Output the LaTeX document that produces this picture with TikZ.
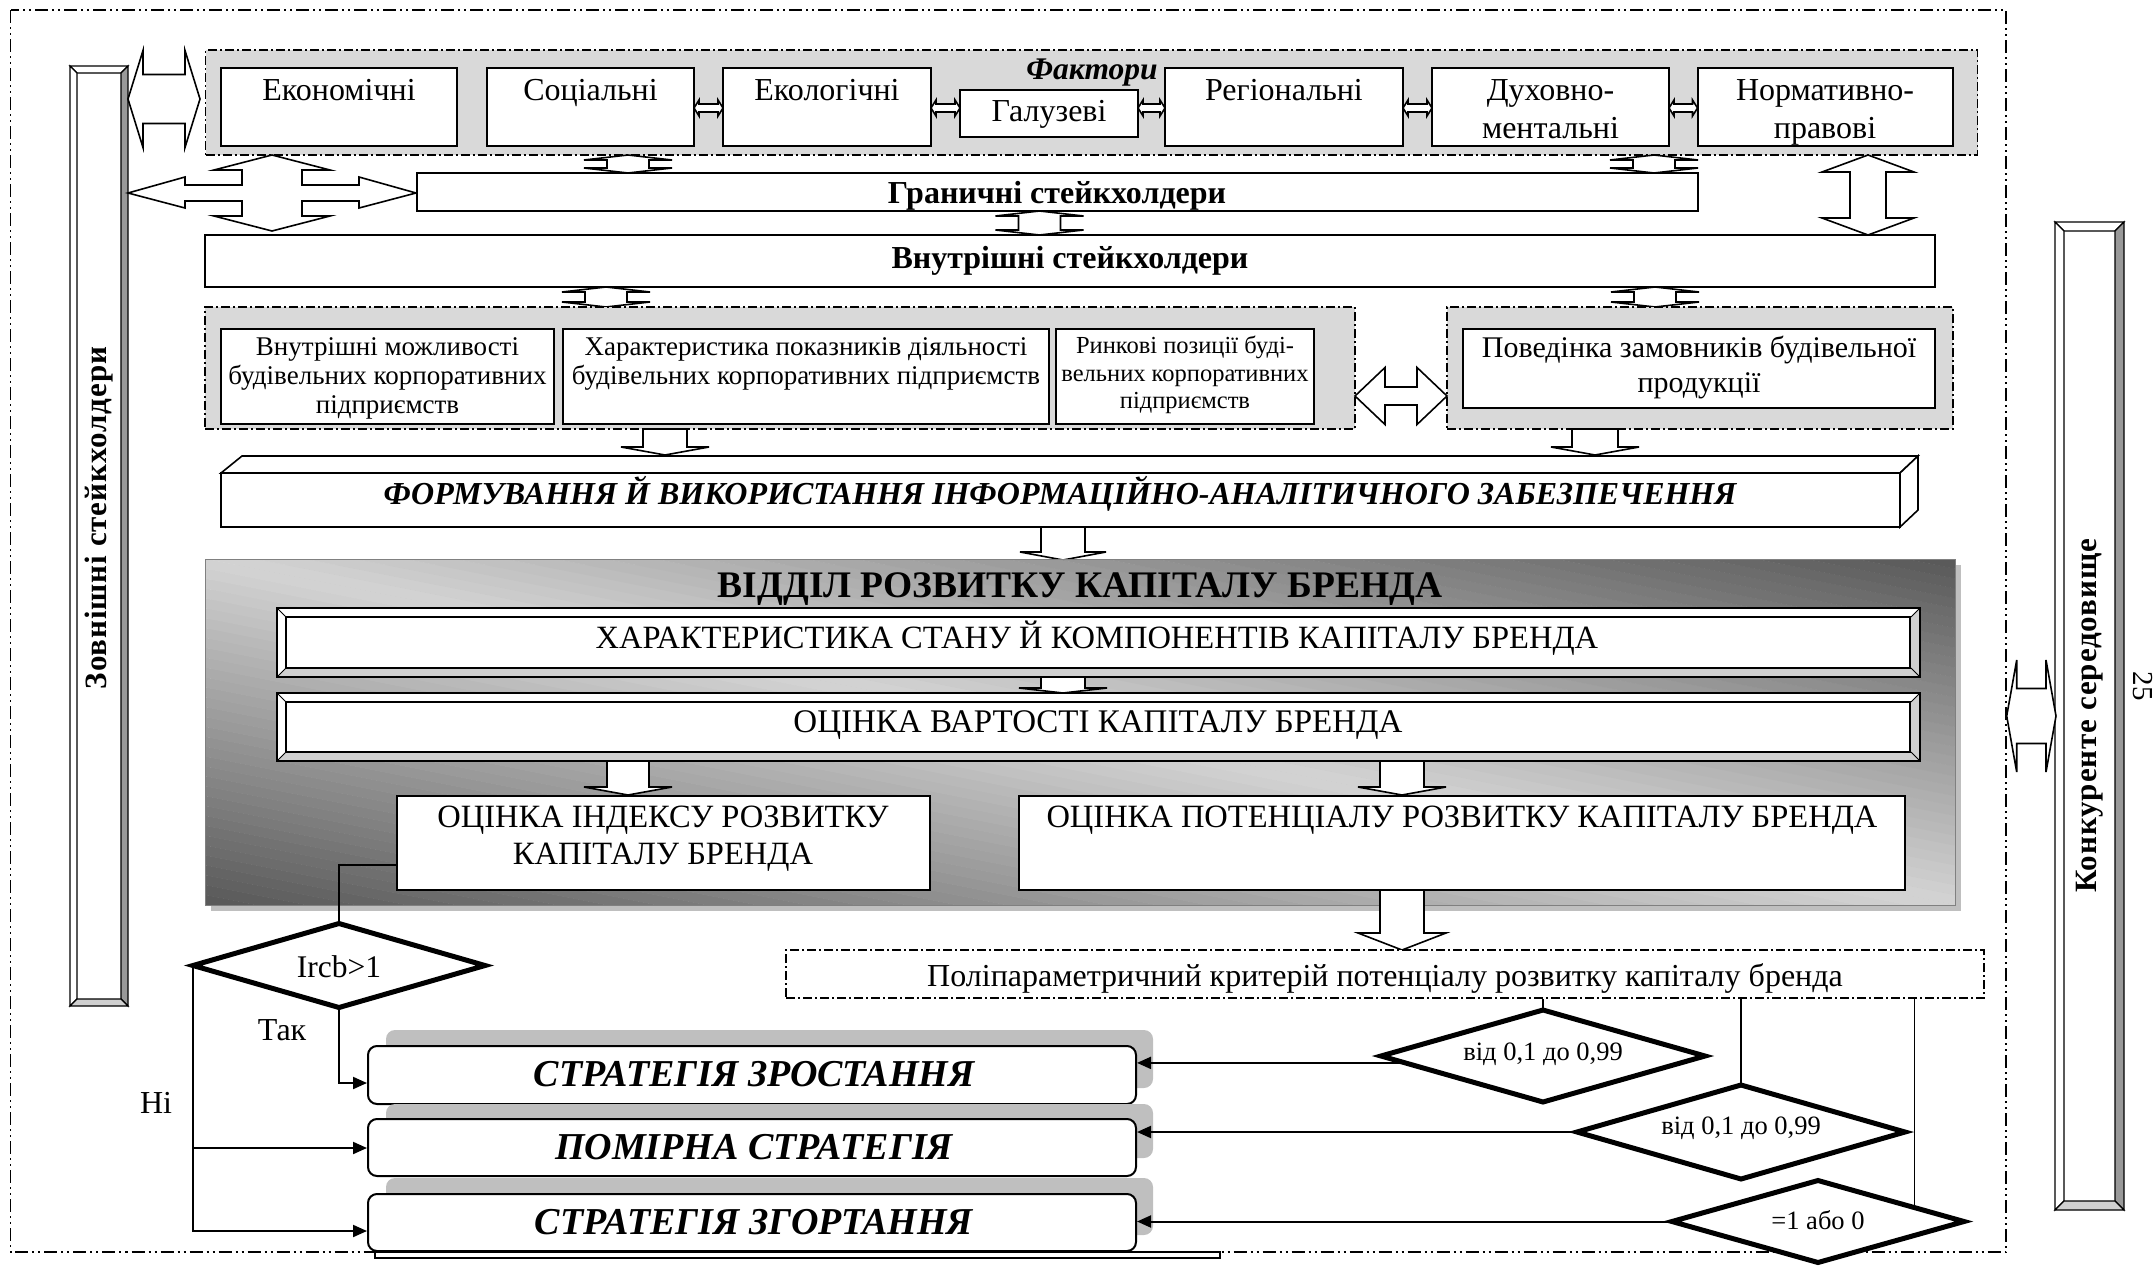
\documentclass[tikz,border=0pt]{standalone}
\usepackage{fontspec}
\setmainfont{Liberation Serif}
\newfontfamily\barfont[LetterSpace=3]{Liberation Serif}
\usetikzlibrary{arrows.meta,calc}
\definecolor{pgray}{HTML}{D9D9D9}
\definecolor{bevgray}{HTML}{D0D0D0}
\definecolor{bardark}{HTML}{999999}
\definecolor{shgray}{HTML}{BFBFBF}
\definecolor{deptdark}{HTML}{585858}
\definecolor{deptlight}{HTML}{D4D4D4}
\newcommand\fsz[1]{\fontsize{#1}{#1}\selectfont}
% vertical double block arrow: cx, ytop, ybot, shaft half, head half, head length
\newcommand\vdbl[6]{\draw[blk] (#1,#2) -- (#1+#5,#2+#6) -- (#1+#4,#2+#6) -- (#1+#4,#3-#6) -- (#1+#5,#3-#6) -- (#1,#3) -- (#1-#5,#3-#6) -- (#1-#4,#3-#6) -- (#1-#4,#2+#6) -- (#1-#5,#2+#6) -- cycle;}
% horizontal double block arrow: cy, xleft, xright, shaft half, head half, head length
\newcommand\hdbl[6]{\draw[blk] (#2,#1) -- (#2+#6,#1-#5) -- (#2+#6,#1-#4) -- (#3-#6,#1-#4) -- (#3-#6,#1-#5) -- (#3,#1) -- (#3-#6,#1+#5) -- (#3-#6,#1+#4) -- (#2+#6,#1+#4) -- (#2+#6,#1+#5) -- cycle;}
% down block arrow: cx, ytop, ytip, shaft half, head half, head length
\newcommand\vdn[6]{\draw[blk] (#1-#4,#2) -- (#1+#4,#2) -- (#1+#4,#3-#6) -- (#1+#5,#3-#6) -- (#1,#3) -- (#1-#5,#3-#6) -- (#1-#4,#3-#6) -- cycle;}
% bevel frame: x1 y1 x2 y2 d
\newcommand\bevframe[5]{%
 \fill[white] (#1,#2) rectangle (#3,#4);
 \fill[bevgray] (#3,#2) -- (#3-#5,#2+#5) -- (#3-#5,#4-#5) -- (#3,#4) -- cycle;
 \fill[bevgray] (#1,#4) -- (#1+#5,#4-#5) -- (#3-#5,#4-#5) -- (#3,#4) -- cycle;
 \draw[line width=2.2pt] (#1,#2) rectangle (#3,#4);
 \draw[line width=1pt] (#1,#2) -- (#1+#5,#2+#5) (#3,#2) -- (#3-#5,#2+#5) (#1,#4) -- (#1+#5,#4-#5) (#3,#4) -- (#3-#5,#4-#5);}
% beveled vertical bar: x1 y1 x2 y2 d
\newcommand\vbar[5]{%
 \filldraw[white,draw=black,line width=1.2pt] (#1,#2) -- (#3,#2) -- (#3-#5,#2+#5) -- (#1+#5,#2+#5) -- cycle;
 \filldraw[white,draw=black,line width=1.2pt] (#1,#2) -- (#1+#5,#2+#5) -- (#1+#5,#4-#5) -- (#1,#4) -- cycle;
 \filldraw[fill=bardark,draw=black,line width=1.2pt] (#3,#2) -- (#3-#5,#2+#5) -- (#3-#5,#4-#5) -- (#3,#4) -- cycle;
 \filldraw[fill=bevgray,draw=black,line width=1.2pt] (#1,#4) -- (#1+#5,#4-#5) -- (#3-#5,#4-#5) -- (#3,#4) -- cycle;}
% diamond outline with named corner coordinates: name, cx, cy, half width, half height
\newcommand\dmd[5]{%
 \draw[diapath] (#2-#4,#3) -- (#2,#3-#5) -- (#2+#4,#3) -- (#2,#3+#5) -- cycle;
 \coordinate (#1-w) at (#2-#4,#3);
 \coordinate (#1-n) at (#2,#3-#5);
 \coordinate (#1-e) at (#2+#4,#3);
 \coordinate (#1-s) at (#2,#3+#5);}
\tikzset{
 bx/.style={draw,line width=2pt,fill=white,inner sep=0,rectangle},
 ddash/.style={dash pattern=on 9pt off 3pt on 2pt off 3pt},
 dddash/.style={dash pattern=on 13pt off 4pt on 2pt off 4pt on 2pt off 4pt},
 panel/.style={draw,line width=1.6pt,ddash,fill=pgray,inner sep=0,rectangle},
 blk/.style={draw,line width=1.6pt,fill=white,line join=miter},
 conn/.style={draw,line width=2pt},
 arr/.style={conn,-{Triangle[length=14pt,width=12pt]}},
 diapath/.style={draw,line width=5pt,fill=white,line join=miter,miter limit=12},
 tx/.style={inner sep=0,anchor=base},
 strat/.style={draw,line width=2pt,fill=white,rounded corners=9pt,inner sep=0,rectangle},
 stshadow/.style={fill=shgray,rounded corners=9pt},
}
\begin{document}
\begin{tikzpicture}[x=1pt,y=-1pt]
\useasboundingbox (0,0) rectangle (2156,1266);
% outer frame
\draw[line width=1.5pt,dddash] (10.5,10) rectangle (2006,1252);
% side bars
\vbar{70}{66}{128}{1006}{7}
\vbar{2055}{222}{2124}{1210}{9}
\node[rotate=90,inner sep=0,font=\fsz{31}\barfont\bfseries] (ext) at (99,518) {Зовнішні стейкхолдери};
\node[rotate=90,inner sep=0,font=\fsz{31}\barfont\bfseries] (comp) at (2090,716) {Конкуренте середовище};
\node[rotate=-90,inner sep=0,font=\fsz{29}] (pg) at (2143,686) {25};

% factors panel
\node[panel,minimum width=1772pt,minimum height=105pt] (fpan) at (1091.5,102.5) {};
\node[bx,minimum width=236pt,minimum height=78pt] (eco) at (339,107) {};
\node[bx,minimum width=207pt,minimum height=78pt] (soc) at (590.5,107) {};
\node[bx,minimum width=208pt,minimum height=78pt] (ecol) at (827,107) {};
\node[bx,minimum width=178pt,minimum height=47pt] (gal) at (1049,113.5) {};
\node[bx,minimum width=238pt,minimum height=78pt] (reg) at (1284,107) {};
\node[bx,minimum width=237pt,minimum height=78pt] (duh) at (1550.5,107) {};
\node[bx,minimum width=255pt,minimum height=78pt] (norm) at (1825,107) {};
\node[tx,font=\fsz{31.5}\bfseries\itshape] (fakt) at (1092,79) {Фактори};
\node[tx,font=\fsz{32}] at (339,100) {Економічні};
\node[tx,font=\fsz{32}] at (590.5,100) {Соціальні};
\node[tx,font=\fsz{32}] at (827,100) {Екологічні};
\node[tx,font=\fsz{32}] at (1049,121) {Галузеві};
\node[tx,font=\fsz{32}] at (1284,100) {Регіональні};
\node[tx,font=\fsz{32}] at (1550.5,100) {Духовно-};
\node[tx,font=\fsz{32}] at (1550.5,138) {ментальні};
\node[tx,font=\fsz{32}] at (1825,100) {Нормативно-};
\node[tx,font=\fsz{32}] at (1825,138) {правові};
\hdbl{108}{694}{723}{4}{8}{5}
\hdbl{108}{931}{960}{4}{8}{5}
\hdbl{108}{1138}{1165}{4}{8}{5}
\hdbl{108}{1403}{1432}{4}{8}{5}
\hdbl{108}{1669}{1697.5}{4}{8}{5}

% left big double arrow
\hdbl{99}{128}{200}{24.5}{48.5}{15}
% four-way arrow
\draw[blk] (272,155) -- (330,170) -- (302,170) -- (302,185) -- (359,185) -- (359,177) -- (416,193) -- (359,208) -- (359,201) -- (302,201) -- (302,216) -- (330,216) -- (272,231) -- (214,216) -- (242,216) -- (242,201) -- (185,201) -- (185,208) -- (128,193) -- (185,177) -- (185,185) -- (242,185) -- (242,170) -- (214,170) -- cycle;

% stakeholders
\node[bx,minimum width=1281pt,minimum height=38pt] (gran) at (1057,192) {};
\node[tx,font=\fsz{32}\bfseries] at (1057,203) {Граничні стейкхолдери};
\node[bx,minimum width=1730pt,minimum height=52pt] (vnut) at (1070,261) {};
\node[tx,font=\fsz{32}\bfseries] at (1070,268) {Внутрішні стейкхолдери};
\vdbl{628}{155}{173}{21}{44}{5}
\vdbl{1654}{155}{173}{21}{44}{5}
\vdbl{1039.5}{211}{235}{21}{44}{5}
\vdbl{1868}{155}{235}{18}{46}{17}
\vdbl{606}{287}{307}{21}{44}{5}
\vdbl{1655}{287}{307}{21}{44}{5}

% middle panels
\node[panel,minimum width=1150pt,minimum height=122pt] (pan1) at (780,368) {};
\node[panel,minimum width=506pt,minimum height=122pt] (pan2) at (1700,368) {};
\node[bx,minimum width=333pt,minimum height=95pt] (vm) at (387.5,376.5) {};
\node[bx,minimum width=486pt,minimum height=95pt] (hp) at (806,376.5) {};
\node[bx,minimum width=258pt,minimum height=95pt] (rp) at (1185,376.5) {};
\node[bx,minimum width=472pt,minimum height=79pt] (beh) at (1699,368.5) {};
\node[tx,font=\fsz{27}] at (387.5,355) {Внутрішні можливості};
\node[tx,font=\fsz{27}] at (387.5,384) {будівельних корпоративних};
\node[tx,font=\fsz{27}] at (387.5,413) {підприємств};
\node[tx,font=\fsz{27}] at (806,355) {Характеристика показників діяльності};
\node[tx,font=\fsz{27}] at (806,384) {будівельних корпоративних підприємств};
\node[tx,font=\fsz{24.5}] at (1185,353) {Ринкові позиції буді-};
\node[tx,font=\fsz{24.5}] at (1185,381) {вельних корпоративних};
\node[tx,font=\fsz{24.5}] at (1185,408) {підприємств};
\node[tx,font=\fsz{30}] at (1699,357) {Поведінка замовників будівельної};
\node[tx,font=\fsz{30}] at (1699,392) {продукції};
\hdbl{396}{1355}{1447}{9}{28.5}{30}

% formation 3D box
\vdn{665}{429}{455}{22}{44}{8}
\vdn{1595}{429}{455}{23}{44}{8}
\draw[blk] (221,473) -- (242,456) -- (1918,456) -- (1900,473) -- cycle;
\draw[blk] (1900,473) -- (1918,456) -- (1918,510) -- (1900,527) -- cycle;
\node[bx,minimum width=1679pt,minimum height=54pt] (form) at (1060.5,500) {};
\node[tx,font=\fsz{32}\bfseries\itshape] at (1060,504) {ФОРМУВАННЯ Й ВИКОРИСТАННЯ ІНФОРМАЦІЙНО-АНАЛІТИЧНОГО ЗАБЕЗПЕЧЕННЯ};
\vdn{1063}{527}{560}{22}{43}{8}

% department panel
\fill[shgray] (211,565) rectangle (1961,911);
\begin{scope}
\clip (205.5,559) rectangle (1955,905);
\foreach \k in {0,...,69} {
  \pgfmathsetmacro\ta{-1+\k/35}
  \pgfmathsetmacro\tb{-1+(\k+1)/35}
  \pgfmathsetmacro\pc{100*abs(\ta+\tb)/2}
  \pgfmathsetmacro\xa{205.5+1750*(\ta)}
  \pgfmathsetmacro\xb{205.5+1750*(\tb)+1.5}
  \fill[deptdark!\pc!deptlight] (\xa,559) -- (\xa+1750,905) -- (\xb+1750,905) -- (\xb,559) -- cycle;
}
\end{scope}
\node[draw=gray,line width=0.8pt,minimum width=1750pt,minimum height=346pt,inner sep=0] (dept) at (1080,732) {};
\node[tx,font=\fsz{37.5}\bfseries] at (1080,597) {ВІДДІЛ РОЗВИТКУ КАПІТАЛУ БРЕНДА};
\bevframe{277}{608}{1920}{677}{9}
\node[draw,line width=1.5pt,inner sep=0,minimum width=1624pt,minimum height=51pt] (har) at (1098,642.5) {};
\node[tx,font=\fsz{32.5}] at (1097,648) {ХАРАКТЕРИСТИКА СТАНУ Й КОМПОНЕНТІВ КАПІТАЛУ БРЕНДА};
\vdn{1063}{677}{693}{22}{44}{5}
\bevframe{277}{693}{1920}{761}{9}
\node[draw,line width=1.5pt,inner sep=0,minimum width=1624pt,minimum height=50pt] (vart) at (1098,727) {};
\node[tx,font=\fsz{33}] at (1098,732) {ОЦІНКА ВАРТОСТІ КАПІТАЛУ БРЕНДА};
\vdn{628}{761}{795}{21}{44}{8}
\vdn{1402}{761}{795}{22}{44}{8}
\node[bx,minimum width=533pt,minimum height=94pt] (ind) at (663,843) {};
\node[tx,font=\fsz{32.5}] at (663,827) {ОЦІНКА ІНДЕКСУ РОЗВИТКУ};
\node[tx,font=\fsz{32.5}] at (663,864) {КАПІТАЛУ БРЕНДА};
\node[bx,minimum width=886pt,minimum height=94pt] (pot) at (1462,843) {};
\node[tx,font=\fsz{32.5}] at (1462,827) {ОЦІНКА ПОТЕНЦІАЛУ РОЗВИТКУ КАПІТАЛУ БРЕНДА};
\vdn{1402}{890}{950}{22}{44}{17}

% criterion
\node[draw,line width=1.5pt,ddash,fill=white,inner sep=0,minimum width=1198pt,minimum height=48pt] (crit) at (1385,974) {};
\node[tx,font=\fsz{32}] at (1385,986) {Поліпараметричний критерій потенціалу розвитку капіталу бренда};

% strategies
\draw[line width=1.2pt] (375,1252) rectangle (1220,1258);
\fill[stshadow] (386,1030) rectangle (1153,1088);
\node[strat,minimum width=768pt,minimum height=58pt] (s1) at (752,1075) {};
\fill[stshadow] (386,1104) rectangle (1153,1158);
\node[strat,minimum width=768pt,minimum height=57pt] (s2) at (752,1147.5) {};
\fill[stshadow] (386,1178) rectangle (1153,1235);
\node[strat,minimum width=768pt,minimum height=57pt] (s3) at (752,1222.5) {};
\node[tx,font=\fsz{38}\bfseries\itshape] at (754,1086) {СТРАТЕГІЯ ЗРОСТАННЯ};
\node[tx,font=\fsz{38}\bfseries\itshape] at (754,1159) {ПОМІРНА СТРАТЕГІЯ};
\node[tx,font=\fsz{38}\bfseries\itshape] at (754,1234) {СТРАТЕГІЯ ЗГОРТАННЯ};

% diamonds
\dmd{d0}{339}{965.5}{146}{42}
\dmd{d1}{1543}{1056}{162}{46}
\dmd{d2}{1741}{1132}{164}{47}
\dmd{d3}{1818}{1221.5}{146}{41}
\node[tx,font=\fsz{31.5}] (d0t) at (339,977) {Ircb>1};
\node[tx,font=\fsz{26.5}] (d1t) at (1543,1060) {від 0,1 до 0,99};
\node[tx,font=\fsz{26.5}] (d2t) at (1741,1134) {від 0,1 до 0,99};
\node[tx,font=\fsz{26.5}] (d3t) at (1818,1229) {=1 або 0};
\coordinate (d3x) at ($(d3-n)!0.66!(d3-e)$);
\coordinate (d1x) at ($(d1-w)!0.15!(d1-s)$);

% connectors
\draw[conn] (ind.west |- 0,865) -| (d0-n);
\draw[arr] (d0-s) |- (s1.west |- 0,1083);
\draw[arr] (d0-w) |- (s3.west |- 0,1231);
\draw[arr] (d0-w |- 0,1148) -- (s2.west |- 0,1148);
\draw[arr] (d1x) -- (d1x -| s1.east);
\draw[arr] (d2-w) -- (d2-w -| s2.east);
\draw[arr] (d3-w) -- (d3-w -| s3.east);
\draw[conn,line width=1.5pt] (crit.south -| d1-n) -- (d1-n);
\draw[conn,line width=1.5pt] (crit.south -| d2-n) -- (d2-n);
\draw[conn,line width=1.5pt] (d3x |- crit.south) -- (d3x);
\node[tx,font=\fsz{32}] at (282,1040) {Так};
\node[tx,font=\fsz{32}] at (156,1113) {Ні};

% right double arrow
\hdbl{716}{2006.7}{2056}{27.5}{56}{10}
\end{tikzpicture}
\end{document}
